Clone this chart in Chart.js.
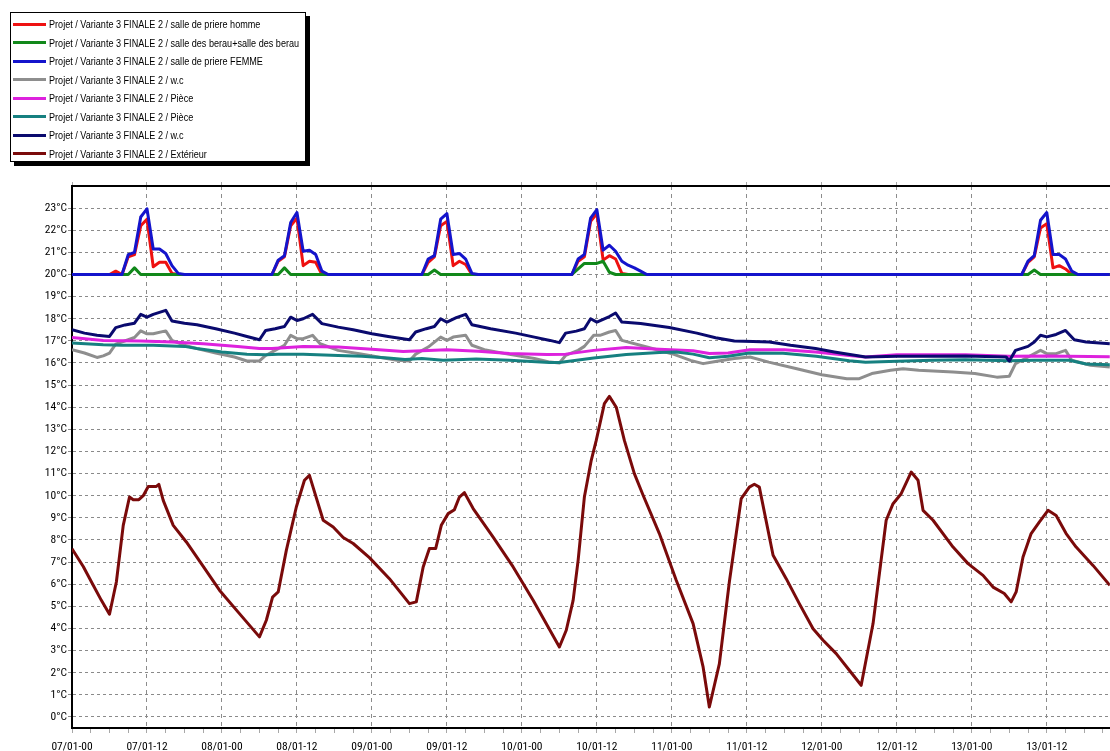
<!DOCTYPE html>
<html>
<head>
<meta charset="utf-8">
<script src="https://cdn.jsdelivr.net/npm/chart.js@4.4.1/dist/chart.umd.min.js"></script>
<style>
  html, body { margin: 0; padding: 0; background: #fff; overflow: hidden; width: 1110px; height: 751px; }
  #wrap { position: relative; width: 1110px; height: 751px; }
  #chart { position: absolute; left: 0; top: 0; }
  #legend {
    position: absolute; left: 10px; top: 12px; width: 294px; height: 148px;
    border: 1px solid #000; background: #fff; box-shadow: 4px 4px 0 #000;
    font: 11.5px "Liberation Sans", Arial, sans-serif; color: #000;
  }
  #legend .row { position: absolute; left: 0; height: 18px; display: flex; align-items: center; white-space: nowrap; }
  #legend .sw { display: inline-block; width: 33px; height: 3px; margin: 0 3px 0 2px; flex: none; }
  #legend .txt { display: inline-block; transform: scaleX(0.79); transform-origin: 0 50%; }
</style>
</head>
<body>
<div id="wrap">
  <canvas id="chart" width="1110" height="751"></canvas>
  <div id="legend"></div>
</div>
<script>
// Axis labels
const xTickLabels = ['07/01-00', '07/01-12', '08/01-00', '08/01-12', '09/01-00', '09/01-12', '10/01-00',
  '10/01-12', '11/01-00', '11/01-12', '12/01-00', '12/01-12', '13/01-00', '13/01-12'];
const yTickValues = [0, 1, 2, 3, 4, 5, 6, 7, 8, 9, 10, 11, 12, 13, 14, 15, 16, 17, 18, 19, 20, 21, 22, 23];

// Series names (points are [hours since 07/01-00, temperature °C])
const seriesNames = [
  'Projet / Variante 3 FINALE 2 / salle de priere homme',
  'Projet / Variante 3 FINALE 2 / salle des berau+salle des berau',
  'Projet / Variante 3 FINALE 2 / salle de priere FEMME',
  'Projet / Variante 3 FINALE 2 / w.c',
  'Projet / Variante 3 FINALE 2 / Pièce',
  'Projet / Variante 3 FINALE 2 / Pièce',
  'Projet / Variante 3 FINALE 2 / w.c',
  'Projet / Variante 3 FINALE 2 / Extérieur'
];

const prierHomme = [
  [0, 20], [6, 20], [7, 20.15], [8, 20], [9, 20.8], [10, 20.9], [11, 22.2], [12, 22.5], [13, 20.35], [14, 20.55], [15, 20.55], [16, 20.05], [17, 20],
  [32, 20], [33, 20.6], [34, 20.8], [35, 22.2], [36, 22.55], [37, 20.4], [38, 20.6], [39, 20.55], [40, 20],
  [56, 20], [57, 20.55], [58, 20.8], [59, 22.2], [60, 22.4], [61, 20.4], [62, 20.6], [63, 20.45], [64, 20],
  [80, 20], [81, 20.6], [82, 20.8], [83, 22.4], [84, 22.75], [85, 20.65], [86, 20.85], [87, 20.7], [88, 20.05], [89, 20],
  [152, 20], [153, 20.55], [154, 20.8], [155, 22.1], [156, 22.3], [157, 20.3], [158, 20.4], [159, 20.25], [160, 20], [166.1, 20]
];

const salleBerau = [
  [0, 20], [9, 20], [10, 20.3], [11, 20], [33, 20], [34, 20.3], [35, 20], [57, 20], [58, 20.2], [59, 20],
  [80, 20], [81, 20.25], [82, 20.5], [84, 20.5], [85, 20.6], [86, 20.1], [87, 20],
  [153, 20], [154, 20.2], [155, 20], [166.1, 20]
];

const prierFemme = [
  [0, 20], [8, 20], [9, 20.9], [10, 21.0], [11, 22.6], [12, 22.97], [13, 21.15], [14, 21.15], [15, 20.95], [16, 20.4], [17, 20.05], [18, 20],
  [32, 20], [33, 20.65], [34, 20.85], [35, 22.35], [36, 22.8], [37, 21.05], [38, 21.1], [39, 20.9], [40, 20.15], [41, 20],
  [56, 20], [57, 20.7], [58, 20.85], [59, 22.5], [60, 22.75], [61, 20.9], [62, 20.95], [63, 20.7], [64, 20.05], [65, 20],
  [80, 20], [81, 20.7], [82, 20.9], [83, 22.55], [84, 22.93], [85, 21.1], [86, 21.32], [87, 21.05], [88, 20.6], [89, 20.42], [90, 20.3], [91, 20.15], [92, 20],
  [152, 20], [153, 20.6], [154, 20.85], [155, 22.45], [156, 22.8], [157, 20.9], [158, 20.9], [159, 20.7], [160, 20.15], [161, 20], [166.1, 20]
];

const wcA = [
  [0, 16.6], [2, 16.45], [4, 16.25], [5, 16.32], [6, 16.45], [7, 16.85], [9, 17.05], [10, 17.15], [11, 17.45], [12, 17.32], [13, 17.32], [15, 17.45], [16, 17.02],
  [18, 16.8], [20, 16.65], [23, 16.45], [26, 16.27], [28, 16.09], [30, 16.09], [31, 16.34], [32.5, 16.57], [34, 16.8], [35, 17.25], [36, 17.1], [37, 17.1],
  [38.5, 17.25], [39.7, 16.87], [42.6, 16.57], [46, 16.42], [49, 16.27], [52, 16.12], [54, 16.09], [55, 16.4], [57, 16.72], [59, 17.17], [60, 17.02],
  [61, 17.17], [63, 17.25], [64, 16.8], [66, 16.6], [70, 16.39], [74, 16.2], [76.5, 16.04], [78, 16.0], [79, 16.34], [81, 16.57], [82, 16.75],
  [83.5, 17.25], [84.5, 17.25], [86, 17.4], [87, 17.47], [88, 17.02], [92, 16.72], [96, 16.42], [99, 16.12], [101, 15.97], [103, 16.07], [106, 16.2],
  [108.5, 16.27], [111.5, 16.04], [116, 15.74], [120, 15.47], [124, 15.29], [126, 15.29], [128, 15.52], [131, 15.67], [133, 15.74], [135.5, 15.67],
  [141, 15.59], [144.5, 15.52], [148, 15.36], [150, 15.4], [151, 15.97], [153, 16.27], [155, 16.57], [156, 16.42], [157.5, 16.42], [159, 16.57],
  [160, 16.12], [163, 15.9], [166.1, 15.82]
];

const pieceA = [
  [0, 17.15], [5, 17.02], [11, 16.99], [16, 16.95], [21, 16.87], [26.5, 16.75], [30, 16.65], [32, 16.65], [37, 16.75], [42.6, 16.72], [48, 16.62],
  [53, 16.52], [60, 16.6], [65, 16.53], [70, 16.43], [76, 16.38], [79, 16.4], [83.5, 16.57], [88.7, 16.7], [94, 16.62], [99.4, 16.55], [102, 16.43],
  [105, 16.45], [108.5, 16.6], [114, 16.6], [119, 16.5], [124.4, 16.34], [127, 16.27], [132, 16.37], [143, 16.37], [150, 16.3], [156, 16.32], [166.1, 16.28]
];

const pieceB = [
  [0, 16.9], [5, 16.82], [8, 16.8], [13, 16.8], [18, 16.75], [20, 16.65], [24, 16.5], [28, 16.39], [31, 16.37], [33, 16.4], [37, 16.39], [42.6, 16.34],
  [46.4, 16.3], [50.6, 16.22], [53.3, 16.16], [56, 16.2], [59.4, 16.12], [64.7, 16.18], [70, 16.12], [76.4, 16.02], [78, 16.02], [83.5, 16.22],
  [88.7, 16.38], [94, 16.47], [96.7, 16.5], [99.4, 16.4], [102, 16.24], [105, 16.3], [108.4, 16.45], [113.8, 16.44], [119.1, 16.3], [124.4, 16.1],
  [127, 16.03], [132, 16.08], [137.7, 16.12], [143, 16.15], [150, 16.1], [154, 16.12], [159.6, 16.12], [162.3, 15.95], [166.1, 15.92]
];

const wcB = [
  [0, 17.5], [2, 17.35], [4, 17.25], [6, 17.2], [7, 17.6], [8.5, 17.72], [10, 17.8], [11, 18.2], [12, 18.07], [13, 18.2], [15, 18.38], [16, 17.9],
  [18, 17.8], [20, 17.73], [23, 17.55], [26, 17.35], [28, 17.2], [30, 17.05], [31, 17.47], [32.5, 17.55], [34, 17.65], [35, 18.07], [36, 17.92],
  [37, 18.0], [38.5, 18.2], [40, 17.78], [42.6, 17.62], [45, 17.5], [48, 17.32], [50.6, 17.2], [54, 17.05], [55, 17.4], [56.7, 17.55], [58, 17.65],
  [59, 18.0], [60, 17.85], [61.5, 18.05], [63, 18.2], [64, 17.73], [67, 17.55], [71, 17.35], [74, 17.17], [76.5, 17.02], [78, 16.92], [79, 17.35],
  [80.7, 17.44], [82, 17.55], [83, 18.0], [84, 17.85], [86, 18.1], [87, 18.26], [88, 17.85], [91, 17.78], [95.6, 17.6], [100, 17.35], [103, 17.14],
  [106, 16.99], [109, 16.97], [111.6, 16.95], [115, 16.8], [119, 16.65], [122, 16.5], [124.5, 16.38], [127, 16.27], [132, 16.3], [143, 16.32],
  [149.5, 16.27], [150, 16.09], [151, 16.57], [153, 16.75], [154, 16.95], [155, 17.25], [156, 17.18], [157.5, 17.29], [159, 17.47], [160.4, 17.05],
  [162.3, 16.95], [166.1, 16.87]
];

const exterieur = [
  [0, 7.6], [1.8, 6.8], [3.4, 5.95], [4.7, 5.27], [6, 4.64], [7.1, 6.1], [8.2, 8.66], [9.2, 9.94], [9.8, 9.82], [10.7, 9.82], [11.4, 10.0], [12.2, 10.42],
  [13.5, 10.42], [13.9, 10.51], [14.6, 9.79], [16.2, 8.66], [18.3, 7.91], [21, 6.81], [23.6, 5.73], [26.8, 4.67], [30, 3.62], [31.1, 4.37], [32.1, 5.42],
  [33, 5.65], [34.3, 7.53], [35.9, 9.49], [37.2, 10.7], [38, 10.92], [40.2, 8.89], [41.8, 8.59], [43.4, 8.11], [45, 7.84], [47.6, 7.2], [50.8, 6.25],
  [54, 5.12], [55.1, 5.2], [56.2, 6.78], [57.2, 7.61], [58.2, 7.61], [59.1, 8.66], [60.2, 9.19], [61.2, 9.37], [62, 9.94], [62.8, 10.14], [64.2, 9.42],
  [67.4, 8.13], [70.6, 6.78], [73.8, 5.27], [78, 3.16], [79.1, 3.92], [80.2, 5.27], [81, 7.08], [82, 9.94], [83.1, 11.6], [83.9, 12.5], [85.2, 14.16],
  [86, 14.49], [87.1, 14.0], [88.4, 12.5], [90, 11.0], [91.4, 10.02], [94, 8.29], [96.7, 6.18], [99.4, 4.22], [101, 2.26], [102, 0.45], [103.6, 2.4],
  [105.2, 6.1], [107.1, 9.87], [108.4, 10.39], [109.2, 10.52], [110, 10.39], [112.2, 7.31], [114.3, 6.25], [116.4, 5.12], [118.6, 3.99], [120.2, 3.47],
  [122.3, 2.86], [124.4, 2.11], [126.3, 1.43], [128.2, 4.22], [130.3, 8.89], [131.4, 9.64], [132.7, 10.09], [134.3, 11.07], [135.4, 10.7], [136.2, 9.34],
  [137.8, 8.89], [141, 7.68], [143.4, 6.93], [145.8, 6.4], [147.4, 5.87], [149.2, 5.58], [150.3, 5.2], [151.1, 5.65], [152.2, 7.23], [153.5, 8.29],
  [154.8, 8.81], [156.2, 9.34], [157.5, 9.11], [159.1, 8.29], [160.7, 7.68], [163.4, 6.85], [166.1, 5.95]
];

const seriesData = [prierHomme, salleBerau, prierFemme, wcA, pieceA, pieceB, wcB, exterieur];
const seriesColors = ['#ee1111', '#11881a', '#1414cc', '#8e8e8e', '#dd22dd', '#168080', '#0a0a6e', '#7a0a0a'];

// condensed face for the axis labels
const AXIS_FONT = { family: 'Roboto', weight: 'condensed', size: 11.5 };
Chart.defaults.font.family = 'Roboto, "Liberation Sans", sans-serif';
Chart.defaults.color = '#000';

const X_MAX = 166.1;

// later series are painted over earlier ones
const datasets = seriesNames.map((name, i) => ({
  label: name,
  data: seriesData[i].map(([h, t]) => ({ x: h, y: t })),
  borderColor: seriesColors[i],
  backgroundColor: seriesColors[i],
  borderWidth: 3,
  pointRadius: 0,
  tension: 0,
  fill: false,
  order: -i,
  borderJoinStyle: 'round'
}));

function twelveHourTicks(scale) {
  scale.ticks = xTickLabels.map((_, i) => ({ value: i * 12 }));
}

new Chart(document.getElementById('chart'), {
  type: 'line',
  data: { datasets },
  options: {
    responsive: false,
    animation: false,
    devicePixelRatio: 1,
    layout: { padding: { top: 182, left: 0, right: 0, bottom: 0 } },
    plugins: { legend: { display: false }, tooltip: { enabled: false } },
    scales: {
      x: {
        type: 'linear', position: 'bottom', min: 0, max: X_MAX,
        afterBuildTicks: scale => {
          const t = [];
          for (let h = 0; h <= X_MAX; h += 3) t.push({ value: h });
          scale.ticks = t;
        },
        afterFit: scale => { scale.height = 23; },
        ticks: {
          autoSkip: false, maxRotation: 0, minRotation: 0, padding: 7,
          font: AXIS_FONT,
          callback: v => (v % 12 === 0 ? xTickLabels[v / 12] : '')
        },
        grid: {
          color: c => (c.tick && c.tick.value % 12 === 0 ? '#8c8c8c' : 'rgba(0,0,0,0)'),
          tickColor: '#a8a8a8', tickLength: 5, lineWidth: 1
        },
        border: { color: '#000', width: 2, dash: [4, 4] }
      },
      xTop: {
        type: 'linear', position: 'top', min: 0, max: X_MAX,
        afterBuildTicks: twelveHourTicks,
        afterFit: scale => { scale.height = 4; },
        ticks: { display: false },
        grid: { drawOnChartArea: false, tickColor: '#a8a8a8', tickLength: 4 },
        border: { color: '#000', width: 2 }
      },
      y: {
        type: 'linear', min: -0.5, max: 24,
        afterBuildTicks: scale => { scale.ticks = yTickValues.map(v => ({ value: v })); },
        afterFit: scale => { scale.width = 72; },
        ticks: { padding: 1, font: AXIS_FONT, callback: v => v + '°C' },
        grid: { color: '#8a8a8a', tickColor: '#8a8a8a', tickLength: 4, lineWidth: 1 },
        border: { color: '#000', width: 2, dash: [3, 3] }
      }
    }
  }
});

// Legend box
const legend = document.getElementById('legend');
seriesNames.forEach((name, i) => {
  const row = document.createElement('div');
  row.className = 'row';
  row.style.top = (2 + i * 18.5) + 'px';
  const sw = document.createElement('span');
  sw.className = 'sw';
  sw.style.background = seriesColors[i];
  const txt = document.createElement('span');
  txt.className = 'txt';
  txt.textContent = name;
  row.appendChild(sw);
  row.appendChild(txt);
  legend.appendChild(row);
});
</script>
</body>
</html>
